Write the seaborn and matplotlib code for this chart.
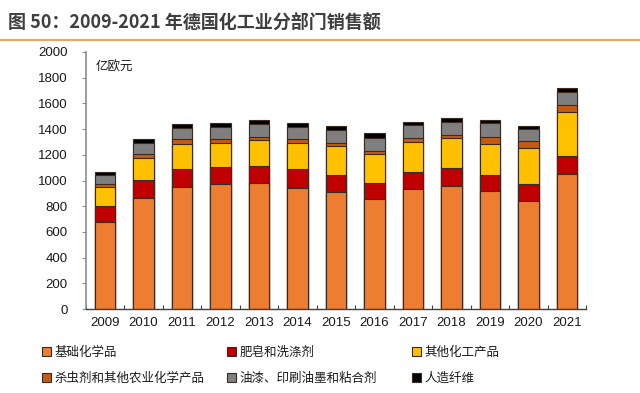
import matplotlib
matplotlib.use("Agg")
import numpy as np
import pandas as pd
import matplotlib.pyplot as plt
import seaborn as sns

# -----------------------------
# Data (亿欧元)
# -----------------------------
years = ["2009", "2010", "2011", "2012", "2013", "2014", "2015",
         "2016", "2017", "2018", "2019", "2020", "2021"]
basic_chem = [680, 861, 952, 970, 978, 944, 910, 854, 931, 957, 915, 840, 1051]
soap = [122, 143, 135, 137, 137, 143, 133, 129, 133, 138, 128, 130, 140]
other_chem = [150, 169, 197, 187, 200, 203, 225, 223, 233, 233, 240, 281, 340]
pesticide = [18, 35, 37, 29, 21, 31, 26, 26, 31, 26, 56, 56, 57]
paint = [73, 85, 90, 91, 104, 93, 99, 101, 104, 104, 105, 94, 103]
fiber = [25, 31, 29, 31, 31, 31, 31, 34, 26, 26, 26, 25, 29]

series_names = ["基础化学品", "肥皂和洗涤剂", "其他化工产品",
                "杀虫剂和其他农业化学产品", "油漆、印刷油墨和粘合剂", "人造纤维"]
series_values = [basic_chem, soap, other_chem, pesticide, paint, fiber]
colors = ["#ED7D31", "#C00000", "#FFC000", "#C55A11", "#7F7F7F", "#000000"]

df = pd.DataFrame(dict(zip(series_names, series_values)), index=years)
cum = df.cumsum(axis=1)

# -----------------------------
# Figure
# -----------------------------
sns.set_theme(style="white")
plt.rcParams["font.family"] = ["Noto Sans CJK SC", "DejaVu Sans"]

fig = plt.figure(figsize=(6.4, 3.93), dpi=100)
ax = fig.add_axes([0.134, 0.2137, 0.782, 0.654])

# stacked bars: draw cumulative totals from the top down
handles = {}
for name, color in reversed(list(zip(series_names, colors))):
    sns.barplot(x=years, y=cum[name].values, color=color, saturation=1,
                width=0.52, edgecolor="#3a2a20", linewidth=0.8, ax=ax, zorder=2)
    handles[name] = ax.patches[-1]

ax.set_ylim(0, 2000)
ax.set_xlim(-0.5, len(years) - 0.5)
ax.set_yticks(np.arange(0, 2001, 200))
ax.set_xlabel("")
ax.set_ylabel("")

for s in ["top", "right"]:
    ax.spines[s].set_visible(False)
ax.spines["left"].set_color("#8c8c8c")
ax.spines["left"].set_linewidth(1.2)
ax.spines["bottom"].set_color("#404040")
ax.spines["bottom"].set_linewidth(1.0)

ax.tick_params(axis="y", direction="out", length=3, width=0.8, color="#8c8c8c",
               pad=10, left=True, labelsize=9.5, labelcolor="#1a1a1a")
ax.tick_params(axis="x", length=0, pad=6, labelsize=9.5, labelcolor="#1a1a1a")
ax.set_xticks(np.arange(-0.5, len(years), 1.0), minor=True)
ax.tick_params(axis="x", which="minor", direction="in", length=3, width=0.8,
               color="#404040", bottom=True)
for lab in ax.get_xticklabels() + ax.get_yticklabels():
    lab.set_family(["Liberation Sans", "DejaVu Sans"])

ax.text(0.02, 0.965, "亿欧元", transform=ax.transAxes, fontsize=9,
        color="#1a1a1a", va="top", ha="left")

# -----------------------------
# Title and rule
# -----------------------------
fig.text(0.012, 0.944, "图 50：2009-2021 年德国化工业分部门销售额",
         fontsize=13, fontweight="bold", color="#3f3f3f", va="center", ha="left")
fig.add_artist(plt.Line2D([0, 1], [0.898, 0.898], color="#EBA463", linewidth=1.5,
                          transform=fig.transFigure))

# -----------------------------
# Legend (3 columns x 2 rows)
# -----------------------------
col_x = [0.065, 0.354, 0.643]
for i, x in enumerate(col_x):
    names = [series_names[i], series_names[i + 3]]
    leg = fig.legend([handles[n] for n in names], names, loc="upper left",
                     bbox_to_anchor=(x, 0.12), frameon=False, fontsize=9,
                     handlelength=0.75, handleheight=0.75, handletextpad=0.3,
                     labelspacing=1.05, borderaxespad=0, borderpad=0)
    for t in leg.get_texts():
        t.set_color("#1a1a1a")

fig.savefig("out.png", dpi=100)
plt.close(fig)
